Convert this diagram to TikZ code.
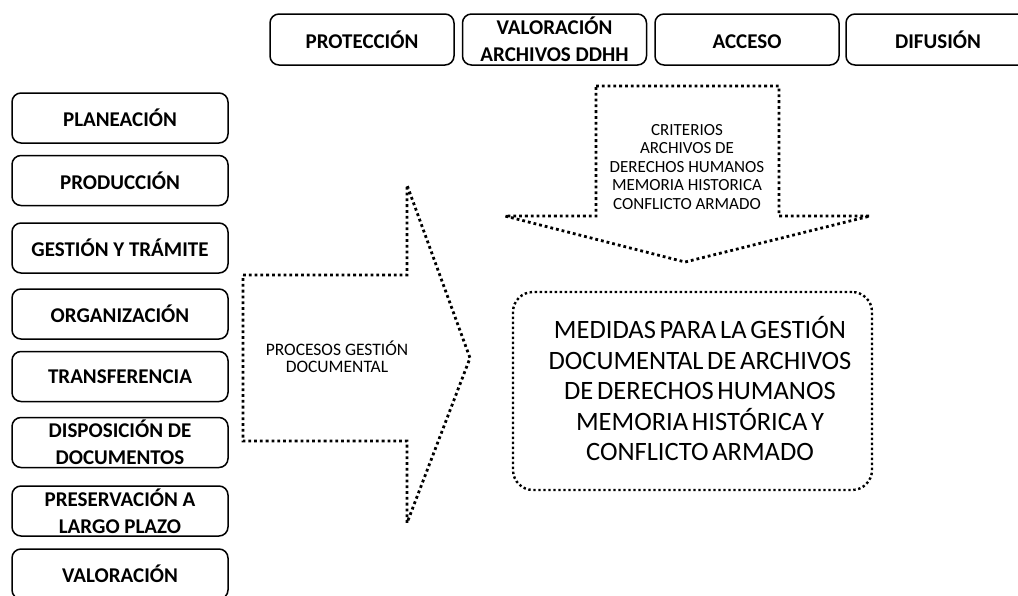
\documentclass[tikz,border=0pt]{standalone}
\usepackage{fontspec}
\setmainfont{Carlito}
\newcommand\mytightsp{\spaceskip=0.14em plus 0.02em\relax}
\begin{document}
\begin{tikzpicture}[x=1pt,y=-1pt,
  lbl/.style={draw, line width=1.5pt, rounded corners=9pt, minimum width=216pt, minimum height=50pt, inner sep=0pt, align=center, font=\fontsize{21}{27}\selectfont\bfseries},
  toplbl/.style={lbl, minimum width=184pt, minimum height=51pt},
  dotline/.style={line width=2.8pt, dash pattern=on 2.8pt off 3pt, line join=miter},
  smalltxt/.style={align=center, inner sep=0pt, font=\fontsize{17}{18.5}\selectfont},
  bigtxt/.style={align=center, inner sep=0pt, font=\fontsize{26.5}{30.5}\selectfont\mytightsp}
]
\useasboundingbox (0,0) rectangle (1018,595);
\begin{scope}
\clip (0,0) rectangle (1018,595);
% top row
\node[toplbl] (prot) at (362,39.5) {PROTECCIÓN};
\node[toplbl] (valdd) at (554.5,39.5) {VALORACIÓN\\ARCHIVOS DDHH};
\node[toplbl] (acc) at (747,39.5) {\vphantom{Ó}ACCESO};
\node[toplbl] (dif) at (938,39.5) {DIFUSIÓN};
% left column
\node[lbl] (plan) at (120,118) {PLANEACIÓN};
\node[lbl] (prod) at (120,180.5) {PRODUCCIÓN};
\node[lbl] (gest) at (120,248) {GESTIÓN Y TRÁMITE};
\node[lbl] (org) at (120,314) {ORGANIZACIÓN};
\node[lbl] (trans) at (120,376.5) {TRANSFERENCIA};
\node[lbl] (disp) at (120,442.5) {DISPOSICIÓN DE\\DOCUMENTOS};
\node[lbl] (pres) at (120,511) {PRESERVACIÓN A\\LARGO PLAZO};
\node[lbl] (valo) at (120,574) {VALORACIÓN};
% right arrow
\draw[dotline] (243,275) -- (407,275) -- (407,185) -- (470,358) -- (407,523) -- (407,441) -- (243,441) -- cycle;
\node[smalltxt, font=\fontsize{17.5}{16.5}\selectfont] (proc) at (337,357) {PROCESOS GESTIÓN\\DOCUMENTAL};
% down arrow
\draw[dotline] (596,86) -- (779,86) -- (779,216) -- (870,216) -- (685,262) -- (505,216) -- (596,216) -- cycle;
\node[smalltxt] (crit) at (687,167) {CRITERIOS\\ARCHIVOS DE\\DERECHOS HUMANOS\\MEMORIA HISTORICA\\CONFLICTO ARMADO};
% main box
\node[draw, dotline, line width=2.4pt, dash pattern=on 2.4pt off 2.6pt, rounded corners=20pt, minimum width=359pt, minimum height=198pt, inner sep=0pt] (main) at (692.5,391) {};
\node[bigtxt] (maintxt) at (700,389) {MEDIDAS PARA LA GESTIÓN\\DOCUMENTAL DE ARCHIVOS\\DE DERECHOS HUMANOS\\MEMORIA HISTÓRICA Y\\CONFLICTO ARMADO};
\end{scope}
\end{tikzpicture}
\end{document}
